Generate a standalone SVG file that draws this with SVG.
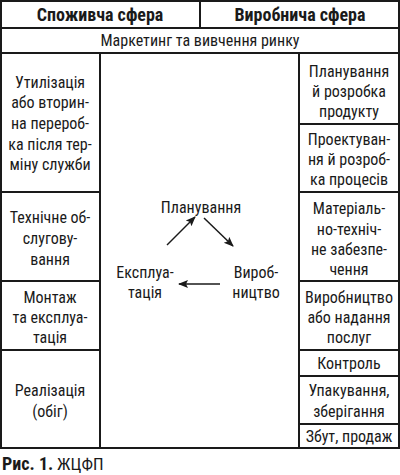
<svg xmlns="http://www.w3.org/2000/svg" width="400" height="475" viewBox="0 0 400 475">
<defs>
<style>
text{font-family:"Liberation Sans Narrow","Roboto Condensed","Liberation Sans",Arial,sans-serif;font-size:16px;fill:#1a1a1a;text-anchor:middle}
.b{font-weight:bold;font-size:18px}
.cap{font-size:17px}
.box{fill:#fff;stroke:#1a1a1a;stroke-width:2}
.ln{stroke:#1a1a1a;stroke-width:1.5;fill:none}
</style>
<marker id="ah" viewBox="0 0 10 10" refX="9" refY="5" markerWidth="10" markerHeight="10" markerUnits="userSpaceOnUse" orient="auto">
<path d="M0,1 L10,5 L0,9 L2,5 Z" fill="#1a1a1a"/>
</marker>
</defs>
<rect x="0" y="0" width="400" height="475" fill="#fff"/>
<g id="header-consumer"><rect class="box" x="1" y="1" width="199" height="27"/><text class="b" x="100" y="21">Споживча сфера</text></g>
<g id="header-production"><rect class="box" x="200" y="1" width="199" height="27"/><text class="b" x="300" y="21">Виробнича сфера</text></g>
<g id="marketing"><rect class="box" x="1" y="28" width="398" height="25"/><text x="200" y="46">Маркетинг та вивчення ринку</text></g>
<g id="center"><rect class="box" x="100" y="53" width="199" height="395"/></g>
<g id="l1"><rect class="box" x="1" y="53" width="99" height="139"/>
<text x="50" y="88">Утилізація</text><text x="50" y="108">або вторин-</text><text x="50" y="129">на перероб-</text><text x="50" y="150">ка після тер-</text><text x="50" y="170">міну служби</text></g>
<g id="l2"><rect class="box" x="1" y="192" width="99" height="89"/>
<text x="50" y="223">Технічне об-</text><text x="50" y="244">слугову-</text><text x="50" y="265">вання</text></g>
<g id="l3"><rect class="box" x="1" y="281" width="99" height="69"/>
<text x="50" y="303">Монтаж</text><text x="50" y="323">та експлуа-</text><text x="50" y="343">тація</text></g>
<g id="l4"><rect class="box" x="1" y="350" width="99" height="98"/>
<text x="50" y="396">Реалізація</text><text x="50" y="417">(обіг)</text></g>
<g id="r1"><rect class="box" x="299" y="53" width="100" height="71"/>
<text x="349" y="77">Планування</text><text x="349" y="97">й розробка</text><text x="349" y="117">продукту</text></g>
<g id="r2"><rect class="box" x="299" y="124" width="100" height="68"/>
<text x="349" y="145">Проектуван-</text><text x="349" y="165">ня й розроб-</text><text x="349" y="185">ка процесів</text></g>
<g id="r3"><rect class="box" x="299" y="192" width="100" height="89"/>
<text x="349" y="214">Матеріаль-</text><text x="349" y="235">но-техніч-</text><text x="349" y="255">не забезпе-</text><text x="349" y="275">чення</text></g>
<g id="r4"><rect class="box" x="299" y="281" width="100" height="69"/>
<text x="349" y="303">Виробництво</text><text x="349" y="323">або надання</text><text x="349" y="343">послуг</text></g>
<g id="r5"><rect class="box" x="299" y="350" width="100" height="26"/><text x="349" y="369">Контроль</text></g>
<g id="r6"><rect class="box" x="299" y="376" width="100" height="48"/>
<text x="349" y="396">Упакування,</text><text x="349" y="417">зберігання</text></g>
<g id="r7"><rect class="box" x="299" y="424" width="100" height="24"/><text x="349" y="442">Збут, продаж</text></g>
<g id="cycle-plan"><text x="201" y="213">Планування</text></g>
<g id="cycle-exp"><text x="145" y="278">Експлуа-</text><text x="145" y="298">тація</text></g>
<g id="cycle-prod"><text x="256" y="278">Вироб-</text><text x="256" y="298">ництво</text></g>
<g id="connectors">
<line class="ln" x1="167" y1="245" x2="195" y2="217" marker-end="url(#ah)"/>
<line class="ln" x1="204" y1="218" x2="233" y2="246" marker-end="url(#ah)"/>
<line class="ln" x1="220" y1="284" x2="179" y2="284" marker-end="url(#ah)"/>
</g>
<g id="caption"><text class="cap" x="2" y="470" style="text-anchor:start"><tspan class="b">Рис. 1.</tspan> ЖЦФП</text></g>
</svg>
